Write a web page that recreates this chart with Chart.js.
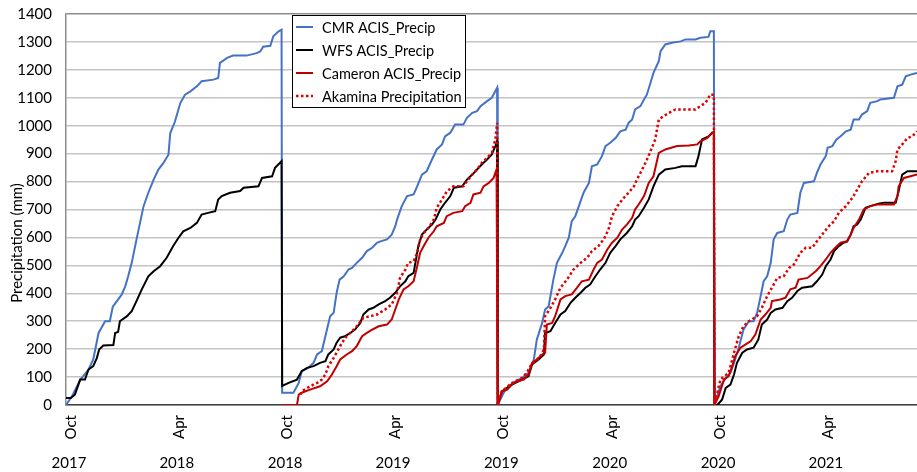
<!DOCTYPE html>
<html>
<head>
<meta charset="utf-8">
<script src="https://cdn.jsdelivr.net/npm/chart.js@4.4.0/dist/chart.umd.min.js"></script>
<style>
  html, body { margin: 0; background: #fff; }
  #wrap { position: relative; width: 917px; height: 472px; }
</style>
</head>
<body>
<div id="wrap"><canvas id="chart"></canvas></div>
<script>
/* Cumulative water-year precipitation, four gauges, Oct 2017 - Aug 2021 */

// x is days since 1 Oct 2017; every series resets to zero each 1 Oct
const tickDays = [0, 182, 365, 547, 730, 913, 1096, 1278];
const monthLabels = ['Oct', 'Apr', 'Oct', 'Apr', 'Oct', 'Apr', 'Oct', 'Apr'];
const yearLabels = ['2017', '2018', '2018', '2019', '2019', '2020', '2020', '2021'];
const lastDay = 1437;
const yTitle = 'Precipitation (mm)';

// CMR ACIS
const cmrDay = [
  0, 10, 24, 38, 46, 55, 66, 74, 79, 94, 100, 105, 111, 119, 125, 131, 139, 148, 156, 164,
  173, 176, 184, 193, 201, 210, 221, 229, 249, 257, 260, 272, 282, 305, 322, 328, 333, 345, 350, 359, 364,
  365, 384, 393, 398, 409, 418, 424, 432, 438, 446, 452, 457, 462, 469, 477, 483, 491, 500, 508, 517,
  525, 531, 542, 550, 556, 559, 567, 576, 587, 593, 601, 609, 618, 626, 635, 640, 649, 657, 671, 677,
  686, 694, 700, 711, 719, 728,
  729, 739, 747, 759, 770, 781, 790, 795, 804, 809, 815, 823, 829, 838, 843, 849, 854, 860, 866, 874,
  883, 888, 897, 905, 911, 919, 928, 936, 945, 950, 956, 961, 970, 976, 981, 987, 992, 1001, 1004, 1012,
  1023, 1038, 1046, 1063, 1071, 1085, 1088, 1094,
  1095, 1105, 1114, 1122, 1128, 1136, 1144, 1153, 1161, 1167, 1173, 1178, 1184, 1190, 1195, 1201, 1212, 1218, 1223, 1235,
  1240, 1246, 1263, 1268, 1274, 1283, 1286, 1294, 1301, 1308, 1317, 1325, 1330, 1339, 1344, 1353, 1358, 1370, 1375, 1398,
  1404, 1412, 1418, 1426, 1437
];
const cmrMm = [
  0, 31, 90, 127, 163, 258, 300, 300, 352, 395, 425, 461, 509, 592, 652, 712, 760, 807, 843, 865,
  896, 973, 1015, 1081, 1111, 1123, 1141, 1159, 1165, 1171, 1225, 1243, 1251, 1251, 1260, 1266, 1283, 1286, 1320, 1338, 1344,
  44, 44, 79, 121, 133, 151, 181, 193, 246, 318, 330, 402, 449, 461, 485, 491, 509, 527, 551, 563,
  581, 586, 593, 610, 640, 664, 712, 748, 754, 783, 825, 837, 879, 915, 933, 962, 975, 1004, 1004, 1028,
  1046, 1052, 1070, 1088, 1100, 1136,
  0, 44, 67, 85, 97, 115, 163, 234, 294, 342, 354, 449, 509, 545, 569, 599, 658, 676, 712, 760,
  795, 855, 861, 891, 927, 939, 956, 980, 986, 1010, 1022, 1058, 1070, 1094, 1112, 1154, 1189, 1231, 1267, 1291,
  1297, 1302, 1309, 1309, 1315, 1318, 1338, 1338,
  0, 67, 97, 115, 151, 205, 270, 300, 300, 330, 390, 443, 461, 509, 593, 616, 622, 664, 682, 688,
  760, 795, 801, 831, 861, 891, 921, 927, 951, 962, 980, 986, 1022, 1022, 1040, 1052, 1082, 1088, 1094, 1100,
  1141, 1147, 1177, 1183, 1189
];

// WFS ACIS
const wfsDay = [
  0, 8, 15, 24, 32, 38, 46, 52, 56, 63, 80, 83, 88, 91, 103, 111, 119, 128, 139, 148,
  159, 170, 181, 190, 198, 210, 221, 229, 240, 252, 257, 263, 277, 294, 300, 325, 331, 348, 353, 364,
  365, 376, 390, 398, 407, 418, 429, 438, 443, 452, 457, 463, 471, 480, 488, 497, 502, 511, 519, 528,
  539, 547, 556, 564, 573, 578, 587, 590, 595, 601, 609, 618, 624, 632, 640, 649, 655, 669, 677, 686,
  694, 702, 711, 719, 725, 728,
  729, 736, 753, 770, 781, 787, 798, 807, 809, 818, 826, 835, 843, 852, 860, 869, 877, 885, 894, 902,
  911, 919, 928, 936, 947, 956, 961, 967, 976, 984, 992, 1001, 1012, 1029, 1040, 1063, 1068, 1074, 1085, 1091, 1094,
  1095, 1100, 1108, 1114, 1122, 1128, 1133, 1142, 1150, 1161, 1169, 1175, 1184, 1190, 1198, 1210, 1218, 1226, 1235, 1243,
  1260, 1268, 1277, 1283, 1291, 1297, 1305, 1313, 1319, 1325, 1330, 1336, 1342, 1350, 1358, 1372, 1381, 1401, 1406, 1412,
  1421, 1437
];
const wfsMm = [
  25, 25, 37, 91, 91, 127, 139, 168, 199, 213, 215, 258, 262, 300, 318, 336, 372, 414, 461, 479,
  497, 527, 569, 599, 622, 634, 652, 682, 688, 694, 736, 748, 760, 766, 778, 783, 813, 819, 849, 873,
  68, 79, 91, 121, 133, 139, 151, 157, 181, 199, 223, 241, 246, 258, 270, 294, 324, 342, 348, 360,
  372, 384, 402, 425, 443, 461, 473, 509, 569, 610, 628, 646, 664, 700, 724, 748, 778, 783, 807, 825,
  843, 861, 879, 897, 927, 944,
  0, 49, 73, 91, 103, 145, 163, 181, 258, 264, 294, 324, 336, 366, 384, 402, 420, 431, 461, 485,
  509, 545, 569, 593, 616, 640, 664, 676, 706, 736, 783, 825, 843, 849, 855, 855, 891, 951, 962, 975, 975,
  0, 0, 20, 61, 73, 109, 151, 187, 199, 205, 234, 288, 306, 330, 342, 348, 372, 384, 408, 420,
  425, 443, 467, 497, 521, 551, 569, 581, 586, 610, 640, 646, 664, 706, 712, 721, 724, 724, 765, 825,
  837, 837
];

// Cameron ACIS (from Oct 2018)
const camDay = [
  365, 390, 393, 398, 412, 429, 441, 449, 457, 463, 474, 483, 491, 500, 508, 517, 528, 542, 550, 556,
  562, 570, 578, 587, 593, 598, 604, 612, 621, 626, 638, 643, 654, 669, 674, 683, 688, 700, 705, 714,
  722, 727,
  729, 736, 745, 753, 762, 773, 781, 787, 795, 804, 809, 812, 821, 826, 835, 843, 854, 863, 871, 883,
  891, 897, 905, 914, 922, 931, 939, 947, 956, 961, 967, 976, 984, 992, 1001, 1012, 1032, 1052, 1066, 1071,
  1083, 1091, 1094,
  1095, 1102, 1111, 1119, 1125, 1130, 1139, 1147, 1156, 1164, 1173, 1181, 1190, 1192, 1206, 1215, 1223, 1232, 1237, 1252,
  1266, 1274, 1283, 1291, 1299, 1308, 1319, 1325, 1330, 1339, 1347, 1358, 1370, 1398, 1404, 1406, 1415, 1426, 1437
];
const camMm = [
  0, 0, 37, 44, 55, 67, 85, 109, 139, 163, 181, 193, 211, 246, 258, 270, 282, 288, 306, 342,
  378, 414, 425, 443, 497, 545, 569, 599, 622, 640, 652, 676, 688, 694, 712, 724, 754, 760, 783, 795,
  813, 843,
  0, 49, 55, 73, 85, 91, 109, 151, 163, 181, 187, 288, 294, 318, 378, 390, 396, 420, 443, 449,
  485, 509, 521, 557, 581, 599, 628, 646, 670, 700, 718, 748, 795, 819, 903, 915, 927, 929, 933, 944,
  956, 975, 978,
  0, 31, 91, 103, 139, 175, 205, 216, 228, 252, 306, 324, 348, 372, 378, 384, 414, 420, 449, 455,
  479, 497, 521, 545, 563, 581, 586, 610, 634, 664, 700, 712, 718, 718, 748, 783, 813, 819, 825
];

// Akamina gauge (from late Oct 2018)
const akaDay = [
  396, 398, 412, 424, 432, 438, 443, 452, 460, 466, 474, 483, 491, 502, 514, 525, 539, 550, 559, 564,
  573, 578, 587, 593, 598, 604, 612, 621, 626, 635, 643, 654, 671, 677, 686, 694, 702, 711, 719, 725, 728,
  729, 736, 753, 770, 778, 784, 801, 807, 809, 818, 826, 835, 846, 857, 869, 880, 888, 899, 908, 916,
  922, 931, 942, 950, 959, 964, 973, 981, 987, 995, 1001, 1009, 1018, 1029, 1063, 1071, 1080, 1088, 1094,
  1095, 1105, 1119, 1128, 1136, 1144, 1153, 1167, 1175, 1184, 1192, 1201, 1212, 1221, 1229, 1240, 1249, 1260, 1268, 1279,
  1288, 1297, 1305, 1317, 1328, 1336, 1344, 1356, 1370, 1395, 1401, 1404, 1412, 1421, 1429, 1437
];
const akaMm = [
  37, 49, 67, 79, 91, 109, 139, 169, 199, 223, 246, 264, 282, 312, 318, 324, 342, 360, 402, 455,
  485, 509, 515, 545, 593, 616, 634, 664, 706, 736, 765, 783, 783, 801, 825, 843, 867, 885, 903, 951, 1010,
  0, 49, 79, 97, 115, 139, 175, 199, 318, 348, 378, 420, 449, 485, 509, 527, 551, 569, 593, 628,
  676, 712, 742, 760, 783, 807, 843, 879, 909, 951, 1022, 1034, 1046, 1058, 1058, 1070, 1082, 1112, 1110,
  0, 91, 115, 187, 246, 282, 300, 318, 348, 390, 420, 455, 461, 491, 503, 545, 563, 563, 586, 616,
  640, 658, 688, 712, 742, 771, 801, 831, 837, 837, 873, 915, 933, 956, 962, 980
];

const FONT = 'Lato, "Noto Sans", sans-serif';

function points(days, mm) {
  return days.map((d, i) => ({ x: d, y: mm[i] }));
}

function line(label, days, mm, color, extra) {
  return Object.assign({
    label,
    data: points(days, mm),
    borderColor: color,
    backgroundColor: color,
    borderWidth: 2,
    pointRadius: 0,
    tension: 0,
    fill: false,
  }, extra);
}

const datasets = [
  line('CMR ACIS_Precip', cmrDay, cmrMm, '#4472c4', { order: 4 }),
  line('WFS ACIS_Precip', wfsDay, wfsMm, '#000000', { order: 3 }),
  line('Cameron ACIS_Precip', camDay, camMm, '#c00000', { order: 2 }),
  line('Akamina Precipitation', akaDay, akaMm, '#e00000', { order: 1, borderDash: [2.5, 2.5], borderWidth: 2.5 }),
];

// boxed legend sitting over the plot, like the spreadsheet original
const boxLegend = {
  id: 'boxLegend',
  afterDraw(chart) {
    const ctx = chart.ctx;
    const left = 292, top = 15, w = 173, h = 92, rowH = 23;
    ctx.save();
    ctx.fillStyle = '#ffffff';
    ctx.fillRect(left, top, w, h);
    ctx.strokeStyle = '#000000';
    ctx.lineWidth = 1;
    ctx.strokeRect(left + 0.5, top + 0.5, w, h);
    ctx.font = '14.5px ' + FONT;
    ctx.textBaseline = 'middle';
    chart.data.datasets.forEach((ds, i) => {
      const cy = top + 12 + i * rowH;
      ctx.strokeStyle = ds.borderColor;
      ctx.lineWidth = ds.borderWidth;
      ctx.setLineDash(ds.borderDash || []);
      ctx.beginPath();
      ctx.moveTo(left + 4, cy);
      ctx.lineTo(left + 21, cy);
      ctx.stroke();
      ctx.setLineDash([]);
      ctx.fillStyle = '#000000';
      ctx.fillText(ds.label, left + 30, cy + 1);
    });
    ctx.restore();
  }
};

// y-axis title, sitting a little below the middle of the axis
const axisTitle = {
  id: 'axisTitle',
  afterDraw(chart) {
    const ctx = chart.ctx;
    const y = chart.scales.y;
    ctx.save();
    ctx.translate(17, y.getPixelForValue(580));
    ctx.rotate(-Math.PI / 2);
    ctx.font = '15px ' + FONT;
    ctx.fillStyle = '#000000';
    ctx.textAlign = 'center';
    ctx.textBaseline = 'middle';
    ctx.fillText(yTitle, 0, 0);
    ctx.restore();
  }
};

const setTicks = (scale) => {
  scale.ticks = tickDays.map(v => ({ value: v }));
};

new Chart(document.getElementById('chart'), {
  type: 'line',
  data: { datasets },
  plugins: [boxLegend, axisTitle],
  options: {
    responsive: true,
    maintainAspectRatio: false,
    animation: false,
    layout: { padding: { top: 14, right: 0, bottom: 0, left: 0 } },
    plugins: {
      legend: { display: false },
      tooltip: { enabled: false },
    },
    scales: {
      x: {
        type: 'linear',
        position: 'bottom',
        min: 0,
        max: lastDay,
        afterBuildTicks: setTicks,
        afterFit: (scale) => { scale.height = 35; },
        grid: { display: false, drawTicks: false },
        border: { display: true, color: '#404040', width: 1.5 },
        ticks: {
          autoSkip: false,
          minRotation: 90,
          maxRotation: 90,
          padding: 10,
          labelOffset: 5,
          color: '#000',
          font: { family: FONT, size: 15 },
          callback: (v) => monthLabels[tickDays.indexOf(v)],
        },
      },
      xYear: {
        type: 'linear',
        position: 'bottom',
        min: 0,
        max: lastDay,
        afterBuildTicks: setTicks,
        afterFit: (scale) => { scale.height = 32; },
        grid: { display: false, drawTicks: false },
        border: { display: false },
        ticks: {
          autoSkip: false,
          maxRotation: 0,
          padding: 14,
          labelOffset: 3,
          color: '#000',
          font: { family: FONT, size: 15 },
          callback: (v) => yearLabels[tickDays.indexOf(v)],
        },
      },
      y: {
        min: 0,
        max: 1400,
        afterFit: (scale) => {
          scale.width = 66;
          scale.paddingTop = 0;
          scale.paddingBottom = 0;
        },
        grid: {
          drawTicks: false,
          lineWidth: 1.5,
          color: (c) => (c.tick && c.tick.value === 1400 ? '#8c8c8c' : '#c4c4c4'),
        },
        border: { display: true, color: '#8c8c8c', width: 1.5 },
        ticks: {
          stepSize: 100,
          padding: 14,
          color: '#000',
          font: { family: FONT, size: 15 },
          callback: (v) => String(v),
        },
      },
    },
  },
});
</script>
</body>
</html>
